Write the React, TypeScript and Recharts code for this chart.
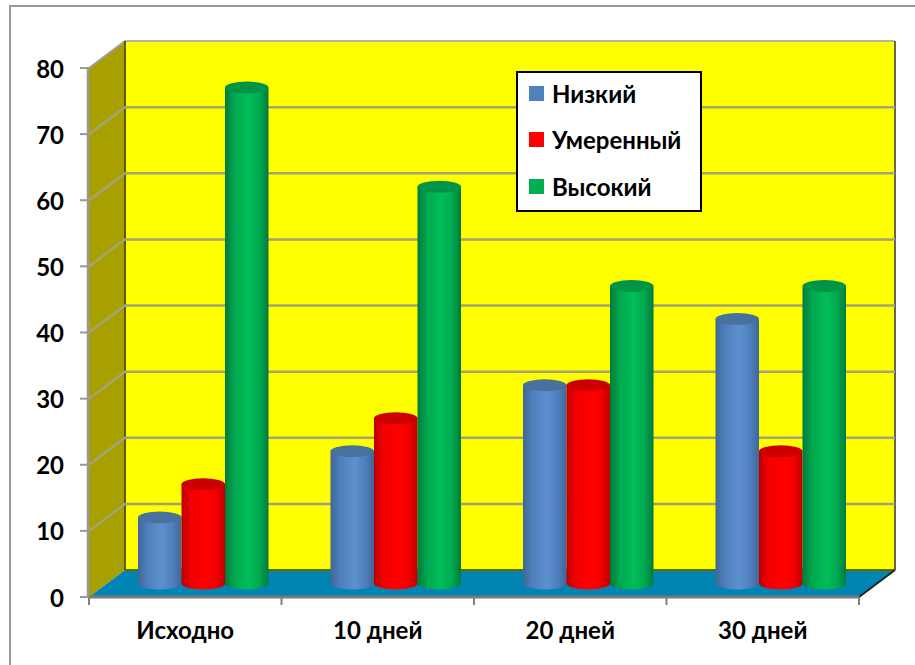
import { BarChart, Bar, XAxis, YAxis, CartesianGrid, Legend, Customized } from "recharts";

const categories = ["Исходно", "10 дней", "20 дней", "30 дней"];
const low = [10, 20, 30, 40];
const moderate = [15, 25, 30, 20];
const high = [75, 60, 45, 45];
const yTicks = [0, 10, 20, 30, 40, 50, 60, 70, 80];

const data = categories.map((name, i) => ({
  name,
  low: low[i],
  moderate: moderate[i],
  high: high[i],
}));

// front plane of the 3D box
const W = 915;
const H = 665;
const LEFT = 89;
const RIGHT = 859;
const TOP = 68;
const BOTTOM = 597;
// how far the back wall is pushed away
const DX = 36;
const DY = -27;

const FONT = "Lato, sans-serif";
const BAND = (RIGHT - LEFT) / categories.length;

// side wall, back wall and floor sit behind the transparent chart
const Walls = () => (
  <svg width={W} height={H} style={{ position: "absolute", left: 0, top: 0 }}>
    <polygon
      points={`${LEFT},${TOP} ${LEFT + DX},${TOP + DY} ${LEFT + DX},${BOTTOM + DY} ${LEFT},${BOTTOM}`}
      fill="#A8A000"
    />
    <rect x={LEFT + DX} y={TOP + DY} width={RIGHT - LEFT} height={BOTTOM - TOP} fill="#FFFF00" />
    <polygon
      points={`${LEFT},${BOTTOM} ${LEFT + DX},${BOTTOM + DY} ${RIGHT + DX},${BOTTOM + DY} ${RIGHT},${BOTTOM}`}
      fill="#0084B4"
    />
    <line x1={LEFT + DX} y1={TOP + DY} x2={RIGHT + DX} y2={TOP + DY} stroke="#B4B4A0" strokeWidth={2} />
    <line x1={LEFT} y1={TOP} x2={LEFT + DX} y2={TOP + DY} stroke="#A0A0A0" strokeWidth={2} />
    <line x1={LEFT + DX} y1={TOP + DY} x2={LEFT + DX} y2={BOTTOM + DY} stroke="#5E5A00" strokeWidth={2} />
    <line x1={RIGHT + DX} y1={TOP + DY} x2={RIGHT + DX} y2={BOTTOM + DY} stroke="#66664A" strokeWidth={2} />
    <line x1={LEFT + DX} y1={BOTTOM + DY} x2={RIGHT + DX} y2={BOTTOM + DY} stroke="#6A6A00" strokeWidth={2} />
    <line x1={RIGHT} y1={BOTTOM} x2={RIGHT + DX} y2={BOTTOM + DY} stroke="#222222" strokeWidth={2} />
    <line x1={LEFT - 1} y1={TOP} x2={LEFT - 1} y2={BOTTOM} stroke="#999999" strokeWidth={2.5} />
  </svg>
);

// grid line runs along the side wall and then across the back wall
const GridLine = (props: any) => {
  const { x1, x2, y1 } = props;
  if (y1 >= BOTTOM - 1 || y1 <= TOP + 1) return <g />;
  return (
    <polyline
      points={`${x1},${y1} ${x1 + DX},${y1 + DY} ${x2 + DX},${y1 + DY}`}
      fill="none"
      stroke="#A3A37A"
      strokeWidth={2.5}
    />
  );
};

const Gradients = () => (
  <defs>
    {[
      ["barLow", "#3F6797", "#4F7FBC", "#5E8FCF"],
      ["barModerate", "#BC0000", "#F20000", "#FF0000"],
      ["barHigh", "#007A3C", "#00A84F", "#00BE58"],
    ].map(([id, edge, side, mid]) => (
      <linearGradient key={id} id={id} x1="0" y1="0" x2="1" y2="0">
        <stop offset="0%" stopColor={edge} />
        <stop offset="22%" stopColor={side} />
        <stop offset="55%" stopColor={mid} />
        <stop offset="80%" stopColor={side} />
        <stop offset="100%" stopColor={edge} />
      </linearGradient>
    ))}
  </defs>
);

// cylinder standing in the middle of the box depth
const Cylinder = (props: any) => {
  const { x, y, width, height, gradient, cap } = props;
  const left = x + DX / 2;
  const top = y + DY / 2;
  const ry = 6;
  const rx = width / 2;
  const body = `M${left},${top} L${left},${top + height} A${rx},${ry} 0 0 0 ${left + width},${top + height} L${left + width},${top} Z`;
  return (
    <g>
      <path d={body} fill={`url(#${gradient})`} />
      <ellipse cx={left + rx} cy={top} rx={rx} ry={ry} fill={cap} />
    </g>
  );
};

// category label with its tick marks on the band edges, not the band centre
const CategoryTick = ({ x, y, payload, index }: any) => {
  const edge = x - BAND / 2;
  return (
    <g>
      <line x1={edge} y1={BOTTOM} x2={edge} y2={BOTTOM + 8} stroke="#808080" strokeWidth={2} />
      {index === categories.length - 1 && (
        <line x1={edge + BAND} y1={BOTTOM} x2={edge + BAND} y2={BOTTOM + 8} stroke="#808080" strokeWidth={2} />
      )}
      <text x={x} y={y + 21} textAnchor="middle" fontFamily={FONT} fontWeight={700} fontSize={24} fill="#000000">
        {payload.value}
      </text>
    </g>
  );
};

const LegendBox = ({ payload }: any) => (
  <div
    style={{
      boxSizing: "border-box",
      width: 186,
      height: 141,
      background: "#FFFFFF",
      border: "2px solid #000000",
    }}
  >
    {(payload ?? []).map((item: any, i: number) => (
      <div
        key={item.value}
        style={{
          position: "absolute",
          left: 13,
          top: 6 + i * 46.5,
          height: 32,
          display: "flex",
          alignItems: "center",
          fontFamily: FONT,
          fontWeight: 700,
          fontSize: 24,
          color: "#000000",
          whiteSpace: "nowrap",
        }}
      >
        <span style={{ width: 15, height: 15, background: item.color, marginRight: 8 }} />
        {item.value}
      </div>
    ))}
  </div>
);

export default function App() {
  return (
    <div style={{ position: "absolute", left: 0, top: 0, width: W, height: H, background: "#FFFFFF", overflow: "hidden" }}>
      <div
        style={{
          position: "absolute",
          left: 9,
          top: 5,
          width: W,
          height: H,
          boxSizing: "border-box",
          border: "2px solid #999999",
        }}
      />
      <Walls />
      <BarChart
        width={W}
        height={H}
        data={data}
        barSize={43.5}
        barGap={0}
        margin={{ left: 0, right: W - RIGHT, top: TOP, bottom: 0 }}
        style={{ position: "absolute", left: 0, top: 0 }}
      >
        <Customized component={<Gradients />} />
        <CartesianGrid vertical={false} horizontal={(p: any) => <GridLine {...p} />} />
        <XAxis
          dataKey="name"
          height={H - BOTTOM}
          axisLine={{ stroke: "#7A7A7A", strokeWidth: 3 }}
          tickLine={false}
          tick={<CategoryTick />}
          tickSize={8}
          tickMargin={13}
          interval={0}
        />
        <YAxis
          width={LEFT}
          domain={[0, 80]}
          ticks={yTicks}
          axisLine={false}
          tickLine={{ stroke: "#999999", strokeWidth: 2 }}
          tick={{ fontFamily: FONT, fontWeight: 700, fontSize: 24, fill: "#000000", dy: 1 }}
          tickSize={9}
          tickMargin={16}
        />
        <Legend
          verticalAlign="middle"
          align="center"
          layout="vertical"
          itemSorter={null}
          content={<LegendBox />}
          wrapperStyle={{ left: 516, top: 71, width: 186, height: 141 }}
        />
        <Bar
          dataKey="low"
          name="Низкий"
          isAnimationActive={false}
          fill="#4F81BD"
          shape={(p: any) => <Cylinder {...p} gradient="barLow" cap="#47729F" />}
        />
        <Bar
          dataKey="moderate"
          name="Умеренный"
          isAnimationActive={false}
          fill="#FF0000"
          shape={(p: any) => <Cylinder {...p} gradient="barModerate" cap="#CC0000" />}
        />
        <Bar
          dataKey="high"
          name="Высокий"
          isAnimationActive={false}
          fill="#00B050"
          shape={(p: any) => <Cylinder {...p} gradient="barHigh" cap="#009546" />}
        />
      </BarChart>
    </div>
  );
}
